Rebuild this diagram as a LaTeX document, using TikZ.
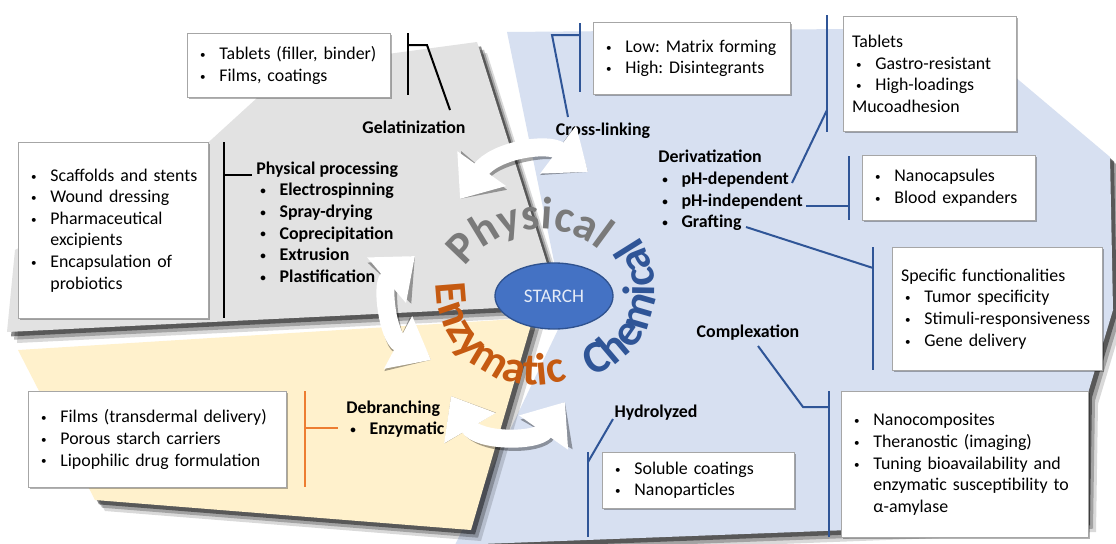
\documentclass[tikz,border=0pt]{standalone}
\usepackage{fontspec}
\setmainfont{Carlito}
\frenchspacing
\usetikzlibrary{shapes.geometric,arrows.meta,decorations.text,shadows}
\definecolor{graybg}{HTML}{E2E2E2}
\definecolor{bluebg}{HTML}{D7E0F1}
\definecolor{yellowbg}{HTML}{FFF1CC}
\definecolor{dblue}{HTML}{2F5597}
\definecolor{orng}{HTML}{ED7D31}
\definecolor{enzc}{HTML}{C55A11}
\definecolor{physc}{HTML}{7A7A7A}
\definecolor{chemc}{HTML}{2F5597}
\definecolor{starfill}{HTML}{4472C4}
\definecolor{stardraw}{HTML}{2F528F}
\definecolor{boxline}{HTML}{A6A6A6}
\definecolor{startext}{HTML}{E4EBF7}
\newcommand\bul{\raisebox{0.12ex}{\scalebox{0.62}{•}}}
\newcommand\bl[1]{\mbox{\hspace*{3pt}\makebox[14.5pt][l]{\bul}#1}}
\newcommand\cl[1]{\mbox{\hspace*{17.5pt}#1}}
\newcommand\hl[1]{\mbox{#1}}
\begin{document}
\begin{tikzpicture}[x=0.75pt,y=-0.75pt,
  font=\fontsize{13.4}{16.2}\selectfont,
  graypoly/.style={insert path={(291,67) -- (477,42) -- (560,305) -- (7,332) -- (15,250) -- (200,150) -- cycle}},
  bluepoly/.style={insert path={(507,32) -- (957,28) -- (1110,157) -- (1113,310) -- (1088,393) -- (1086,521) -- (455,545) -- (565,315) -- cycle}},
  yellowpoly/.style={insert path={(18,350) -- (533,318) -- (471,530) -- (95,500) -- cycle}},
  box/.style={draw=boxline, line width=0.6pt, fill=white, anchor=north west, align=left,
    inner xsep=6.5pt, inner ysep=0pt,
    drop shadow={shadow xshift=1.2pt, shadow yshift=-1.2pt, opacity=0.3, fill=black}},
  lbl/.style={font=\fontsize{13.4}{16.2}\selectfont\bfseries, inner sep=0pt},
  lblock/.style={lbl, align=left, anchor=west},
  bline/.style={dblue, line width=1.5pt},
  kline/.style={black, line width=1.5pt},
  oline/.style={orng, line width=1.5pt},
  twoway/.style={line width=13.5pt, {Triangle[length=28pt,width=43pt]}-{Triangle[length=28pt,width=43pt]}},
]
\useasboundingbox (0,0) rectangle (1116,543);
\fill[white] (0,0) rectangle (1116,543);

% ---------- background regions with shadows ----------
\foreach \d/\o in {10/0.15,7/0.25,4/0.45}{\fill[black, opacity=\o, shift={(\d,\d*1.1)}, bluepoly];}
\fill[bluebg, bluepoly];
\foreach \d/\o in {10/0.15,7/0.25,4/0.45}{\fill[black, opacity=\o, shift={(\d,\d*1.1)}, yellowpoly];}
\fill[yellowbg, yellowpoly];
\foreach \d/\o in {10/0.15,7/0.25,4/0.45}{\fill[black, opacity=\o, shift={(\d,\d*1.1)}, graypoly];}
\fill[graybg, graypoly];

% ---------- white boxes ----------
\node[box, text width=139.25pt, minimum height=48pt] (tabL) at (187,33)
  {\bl{Tablets (filler, binder)}\\ \bl{Films, coatings}};
\node[box, text width=129.5pt, minimum height=132pt] (scaf) at (18,142)
  {\bl{Scaffolds and stents}\\ \bl{Wound dressing}\\ \bl{Pharmaceutical}\\ \cl{excipients}\\ \bl{Encapsulation of}\\ \cl{probiotics}};
\node[box, text width=180.5pt, minimum height=72pt] (films) at (28,391)
  {\bl{Films (transdermal delivery)}\\ \bl{Porous starch carriers}\\ \bl{Lipophilic drug formulation}};
\node[box, text width=134.75pt, minimum height=54pt] (lowhigh) at (593,22)
  {\bl{Low: Matrix forming}\\ \bl{High: Disintegrants}};
\node[box, text width=116.75pt, minimum height=86.25pt] (tabR) at (843,16)
  {\hl{Tablets}\\ \bl{Gastro-resistant}\\ \bl{High-loadings}\\ \hl{Mucoadhesion}};
\node[box, text width=116.75pt, minimum height=48.75pt] (nano) at (862,155)
  {\bl{Nanocapsules}\\ \bl{Blood expanders}};
\node[box, text width=144.5pt, minimum height=92.25pt] (spec) at (892,247)
  {\hl{Specific functionalities}\\ \bl{Tumor specificity}\\ \bl{Stimuli-responsiveness}\\ \bl{Gene delivery}};
\node[box, text width=172.25pt, minimum height=109.5pt] (comp) at (841,391)
  {\bl{Nanocomposites}\\ \bl{Theranostic (imaging)}\\ \bl{Tuning bioavailability and}\\ \cl{enzymatic susceptibility to}\\ \cl{α-amylase}};
\node[box, text width=131pt, minimum height=42pt] (solub) at (602,452)
  {\bl{Soluble coatings}\\ \bl{Nanoparticles}};

% ---------- labels ----------
\node[lbl] (gel) at (414,127) {Gelatinization};
\node[lbl] (cross) at (603,131) {Cross-linking};
\node[lbl] (complex) at (748,333) {Complexation};
\node[lbl] (hydro) at (656,413) {Hydrolyzed};
\node[lblock] (physproc) at (256,222) {\hl{Physical processing}\\ \bl{Electrospinning}\\ \bl{Spray-drying}\\ \bl{Coprecipitation}\\ \bl{Extrusion}\\ \bl{Plastification}};
\node[lblock] (deriv) at (658,190.5) {\hl{Derivatization}\\ \bl{pH-dependent}\\ \bl{pH-independent}\\ \bl{Grafting}};
\node[lblock] (debr) at (346,419) {\hl{Debranching}\\ \bl{Enzymatic}};

% ---------- bracket connectors ----------
\coordinate (gA) at (408,33); \coordinate (gB) at (408,95);
\coordinate (gC) at (408,45); \coordinate (gD) at (427,45); \coordinate (gE) at (450,110);
\draw[kline] (gA) -- (gB);
\draw[kline] (gC) -- (gD) -- (gE);
\coordinate (pA) at (224,142); \coordinate (pB) at (224,318);
\coordinate (pC) at (224,175); \coordinate (pD) at (252,175);
\draw[kline] (pA) -- (pB);
\draw[kline] (pC) -- (pD);
\coordinate (dA) at (305,391); \coordinate (dB) at (305,487);
\coordinate (dC) at (305,428); \coordinate (dD) at (338,428);
\draw[oline] (dA) -- (dB);
\draw[oline] (dC) -- (dD);
\coordinate (cA) at (580,23); \coordinate (cB) at (580,92);
\coordinate (cC) at (580,35); \coordinate (cD) at (552,35); \coordinate (cE) at (568,117);
\draw[bline] (cA) -- (cB);
\draw[bline] (cC) -- (cD) -- (cE);
\coordinate (eA) at (827,15); \coordinate (eB) at (827,132);
\coordinate (eC) at (792,183); \coordinate (eD) at (827,110);
\draw[bline] (eA) -- (eB);
\draw[bline] (eC) -- (eD);
\coordinate (fA) at (849,156); \coordinate (fB) at (849,220);
\coordinate (fC) at (806,206); \coordinate (fD) at (849,206);
\draw[bline] (fA) -- (fB);
\draw[bline] (fC) -- (fD);
\coordinate (hA) at (873,247); \coordinate (hB) at (873,370);
\coordinate (hC) at (746,227); \coordinate (hD) at (873,268);
\draw[bline] (hA) -- (hB);
\draw[bline] (hC) -- (hD);
\coordinate (kA) at (829,391); \coordinate (kB) at (829,537);
\coordinate (kC) at (758,346); \coordinate (kD) at (803,407); \coordinate (kE) at (829,407);
\draw[bline] (kA) -- (kB);
\draw[bline] (kC) -- (kD) -- (kE);
\coordinate (lA) at (588,452); \coordinate (lB) at (588,537);
\coordinate (lC) at (613,419); \coordinate (lD) at (588,462);
\draw[bline] (lA) -- (lB);
\draw[bline] (lC) -- (lD);

% ---------- curved double arrows ----------
\coordinate (a1s) at (460,199); \coordinate (a1e) at (588,172);
\coordinate (a2s) at (415,256); \coordinate (a2e) at (431,360);
\coordinate (a3s) at (451,396); \coordinate (a3e) at (565,402);
\begin{scope}[transparency group, opacity=0.35, shift={(3,4)}]
  \draw[twoway, black] (a1s) .. controls (495,150) and (548,142) .. (a1e);
  \draw[twoway, black] (a2s) .. controls (381,285) and (388,337) .. (a2e);
  \draw[twoway, black] (a3s) .. controls (478,442) and (537,442) .. (a3e);
\end{scope}
\draw[twoway, white] (a1s) .. controls (495,150) and (548,142) .. (a1e);
\draw[twoway, white] (a2s) .. controls (381,285) and (388,337) .. (a2e);
\draw[twoway, white] (a3s) .. controls (478,442) and (537,442) .. (a3e);

% ---------- curved titles ----------
\path[decorate, decoration={text along path, text align=center,
  text={|\fontsize{34}{34}\selectfont\bfseries\color{physc}|Physical}}]
  (540,322) ++(-150:93) arc[start angle=-150, end angle=-44, radius=93];
\path[decorate, decoration={text along path, text align=center,
  text={|\fontsize{34}{34}\selectfont\bfseries\color{enzc}|Enzymatic}}]
  (534,287) ++(193:98) arc[start angle=193, end angle=59, radius=98];
\path[decorate, decoration={text along path, text align=center,
  text={|\fontsize{34}{34}\selectfont\bfseries\color{chemc}|Chemical}}]
  (564,289) ++(81:91) arc[start angle=81, end angle=-44, radius=91];

% ---------- centre ----------
\node[ellipse, draw=stardraw, line width=1pt, fill=starfill, minimum width=88.5pt, minimum height=49.5pt,
  text=startext, font=\fontsize{14.4}{16}\selectfont] (starch) at (554,296) {STARCH};
\end{tikzpicture}
\end{document}
